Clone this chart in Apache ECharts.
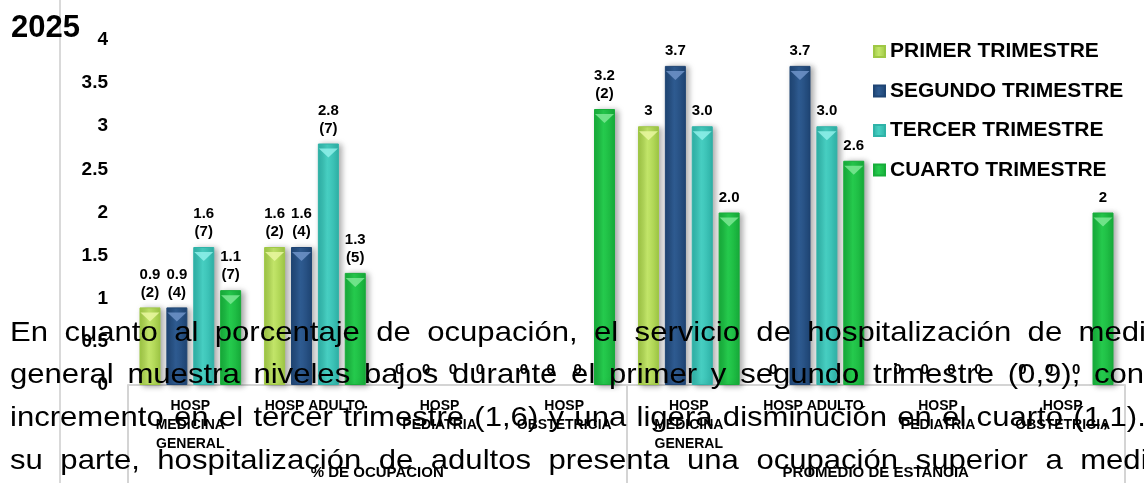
<!DOCTYPE html>
<html>
<head>
<meta charset="utf-8">
<script src="https://cdn.jsdelivr.net/npm/echarts@6/dist/echarts.min.js"></script>
<style>
  html, body { margin: 0; padding: 0; background: #fff; }
  #wrap { position: relative; width: 1144px; height: 483px; overflow: hidden; }
  #chart { position: absolute; left: 0; top: 0; width: 1144px; height: 483px; }
  .linea {
    position: absolute; left: 10px; white-space: nowrap;
    font-family: 'Liberation Sans', Arial, sans-serif; font-size: 28px;
    line-height: 32px; color: #000; pointer-events: none;
    transform: scaleX(1.11); transform-origin: 0 0;
  }
</style>
</head>
<body>
<div id="wrap">
  <div id="chart"></div>
  <div id="texto"></div>
</div>
<script>
// categorias del eje
const categorias = [
  'HOSP\nMEDICINA\nGENERAL', 'HOSP ADULTO', 'HOSP\nPEDIATRIA', 'HOSP\nOBSTETRICIA',
  'HOSP\nMEDICINA\nGENERAL', 'HOSP ADULTO', 'HOSP\nPEDIATRIA', 'HOSP\nOBSTETRICIA'
];
const grupos = ['% DE OCUPACION', 'PROMEDIO DE ESTANCIA'];
const trimestres = ['PRIMER TRIMESTRE', 'SEGUNDO TRIMESTRE', 'TERCER TRIMESTRE', 'CUARTO TRIMESTRE'];

// valores tal como aparecen en la grafica
const primer  = ['0.9', '1.6', '0', '0', '3',   '0',   '0', '0'];
const segundo = ['0.9', '1.6', '0', '0', '3.7', '3.7', '0', '0'];
const tercer  = ['1.6', '2.8', '0', '0', '3.0', '3.0', '0', '0'];
const cuarto  = ['1.1', '1.3', '0', '3.2', '2.0', '2.6', '0', '2'];

// lugar (entre parentesis)
const lugarPrimer  = [2, 2, null, null, null, null, null, null];
const lugarSegundo = [4, 4, null, null, null, null, null, null];
const lugarTercer  = [7, 7, null, null, null, null, null, null];
const lugarCuarto  = [7, 5, null, 2, null, null, null, null];

const ticksY = ['0', '0.5', '1', '1.5', '2', '2.5', '3', '3.5', '4'];

// texto del documento que se encima
const parrafo = [
  'En cuanto al porcentaje de ocupación, el servicio de hospitalización de medicina',
  'general muestra niveles bajos durante el primer y segundo trimestre (0,9), con un',
  'incremento en el tercer trimestre (1,6) y una ligera disminución en el cuarto (1,1). Por',
  'su parte, hospitalización de adultos presenta una ocupación superior a medicina'
];

const colores = [
  ['#9fc845', '#c3e66a', '#9fc845'],
  ['#1f4574', '#2f5c92', '#1f4574'],
  ['#2fb3a8', '#48d0c3', '#2fb3a8'],
  ['#17ad3a', '#26cc4e', '#17ad3a']
];
const puntas = ['#e9f7a0', '#6f93c8', '#8ff0ea', '#7de894'];

const datos = [primer, segundo, tercer, cuarto];
const lugares = [lugarPrimer, lugarSegundo, lugarTercer, lugarCuarto];
const fuente = "'Liberation Sans', Arial, sans-serif";

function degradado(c) {
  return new echarts.graphic.LinearGradient(0, 0, 1, 0, [
    { offset: 0, color: c[0] }, { offset: 0.45, color: c[1] }, { offset: 1, color: c[2] }
  ]);
}

// las barras en cero no llevan relleno ni sombra, solo la etiqueta
const vacio = { color: 'transparent', borderWidth: 0, shadowColor: 'transparent' };

const series = [];
datos.forEach((d, i) => {
  series.push({
    name: trimestres[i],
    type: 'bar',
    barWidth: 21,
    barGap: '28%',
    data: d.map(v => Number(v) > 0 ? Number(v) : { value: 0, itemStyle: vacio }),
    itemStyle: {
      color: degradado(colores[i]),
      borderColor: colores[i][0],
      borderWidth: 1,
      shadowColor: 'rgba(0,0,0,0.35)',
      shadowBlur: 6,
      shadowOffsetX: 3,
      shadowOffsetY: 1
    },
    label: {
      show: true,
      position: 'top',
      distance: 6,
      color: '#000',
      fontFamily: fuente,
      fontWeight: 'bold',
      fontSize: 15,
      lineHeight: 18,
      formatter: (p) => lugares[i][p.dataIndex] != null
        ? d[p.dataIndex] + '\n(' + lugares[i][p.dataIndex] + ')'
        : d[p.dataIndex]
    }
  });
});
// punta triangular de cada barra
datos.forEach((d, i) => {
  series.push({
    name: 'punta' + i,
    type: 'pictorialBar',
    barWidth: 21,
    barGap: '28%',
    symbol: 'triangle',
    symbolRotate: 180,
    symbolSize: [19, 9],
    symbolPosition: 'end',
    symbolOffset: [0, 5],
    z: 3,
    itemStyle: { color: puntas[i], opacity: 0.85 },
    data: d.map(v => Number(v) > 0 ? Number(v) : '-')
  });
});

const chart = echarts.init(document.getElementById('chart'));
chart.setOption({
  animation: false,
  textStyle: { fontFamily: fuente },
  title: {
    text: '2025', left: 6, top: 8,
    textStyle: { fontFamily: fuente, fontWeight: 'bold', fontSize: 31, color: '#000' }
  },
  legend: {
    data: trimestres,
    orient: 'vertical',
    left: 868,
    top: 36,
    itemWidth: 11,
    itemHeight: 11,
    itemGap: 18.5,
    icon: 'rect',
    textStyle: { fontFamily: fuente, fontWeight: 'bold', fontSize: 21, color: '#000', lineHeight: 21 }
  },
  grid: { left: 128, right: 19, top: 40, bottom: 98 },
  xAxis: [{
    type: 'category',
    data: categorias,
    axisLine: { show: false },
    axisTick: { show: false },
    axisLabel: {
      interval: 0, margin: 12, color: '#000',
      fontFamily: fuente, fontWeight: 'bold', fontSize: 14, lineHeight: 19
    }
  }, {
    type: 'category',
    data: grupos,
    position: 'bottom',
    axisLine: { show: true, lineStyle: { color: '#d4d4d4', width: 2 } },
    axisTick: { show: true, length: 100, lineStyle: { color: '#d4d4d4', width: 2 } },
    axisLabel: {
      margin: 80, color: '#000',
      fontFamily: fuente, fontWeight: 'bold', fontSize: 15
    }
  }],
  yAxis: {
    type: 'value',
    min: 0, max: 4, interval: 0.5,
    splitLine: { show: false },
    axisLine: { show: false },
    axisTick: { show: false },
    axisLabel: {
      margin: 20, color: '#000',
      fontFamily: fuente, fontWeight: 'bold', fontSize: 19,
      formatter: (v) => ticksY[Math.round(v * 2)]
    }
  },
  graphic: [{
    type: 'line',
    shape: { x1: 60, y1: 0, x2: 60, y2: 483 },
    style: { stroke: '#d9d9d9', lineWidth: 2 },
    silent: true
  }],
  series: series
});

// parrafo encimado
const caja = document.getElementById('texto');
const bases = [342, 384, 427, 470];
const espacios = [7, 4.6, 1.5, 8];
parrafo.forEach((t, i) => {
  const div = document.createElement('div');
  div.className = 'linea';
  div.style.top = (bases[i] - 26) + 'px';
  div.style.wordSpacing = espacios[i] + 'px';
  div.textContent = t;
  caja.appendChild(div);
});
</script>
</body>
</html>
